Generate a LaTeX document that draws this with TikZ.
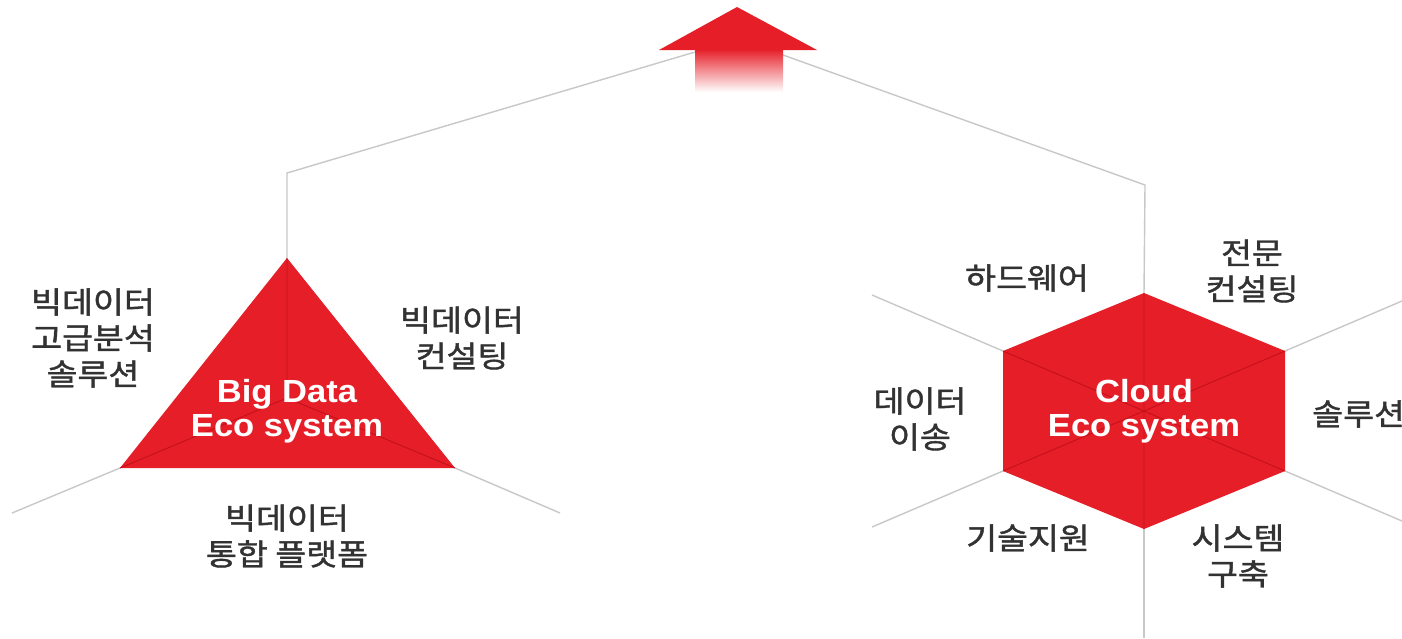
\documentclass[tikz,border=0pt]{standalone}
\usepackage{fontspec}
\setmainfont{Liberation Sans}
\newfontfamily\krfont[FakeBold=1.3]{Noto Sans CJK KR}
\definecolor{ecored}{RGB}{230,30,40}
\definecolor{ecodark}{RGB}{196,16,26}
\definecolor{linegray}{RGB}{200,200,200}
\definecolor{krtext}{RGB}{50,50,50}
\begin{document}
\begin{tikzpicture}[x=1pt,y=-1pt,
  conn/.style={draw=linegray, line width=1.4pt},
  innerline/.style={draw=ecodark, line width=0.9pt},
  eco/.style={text=white, font=\bfseries\fontsize{32}{34}\selectfont, align=center, inner sep=0pt, xscale=1.08},
  kr/.style={text=krtext, font=\krfont\fontsize{30}{36}\selectfont, align=center, inner sep=0pt, xscale=1.12}]
\useasboundingbox (0,0) rectangle (1402,638);
\fill[white] (0,0) rectangle (1402,638);

% named points
\coordinate (tip) at (737,7);
\coordinate (hl) at (659,50);
\coordinate (hr) at (817,50);
\coordinate (aL) at (695,52);
\coordinate (aR) at (783,55);
\coordinate (bdTop) at (287,173);
\coordinate (clTop) at (1145,185);

% triangle
\coordinate (tA) at (287,258);
\coordinate (tB) at (120,468);
\coordinate (tC) at (455,468);
\coordinate (tO) at (287,398);
\coordinate (tBx) at (12,513);
\coordinate (tCx) at (560,513);

% hexagon
\coordinate (hO) at (1144,411);
\coordinate (hT) at (1144,293);
\coordinate (hTR) at (1285,351);
\coordinate (hBR) at (1285,471);
\coordinate (hB) at (1144,529);
\coordinate (hBL) at (1003,471);
\coordinate (hTL) at (1003,351);
\coordinate (hTLx) at (872,295);
\coordinate (hBLx) at (872,527);
\coordinate (hTRx) at (1402,301);
\coordinate (hBRx) at (1402,521);
\coordinate (hBx) at (1144,638);

% connectors
\draw[conn] (tA) -- (bdTop) -- (aL);
\draw[conn] (aR) -- (clTop) -- (hT);
\draw[conn] (tB) -- (tBx);
\draw[conn] (tC) -- (tCx);
\draw[conn] (hTL) -- (hTLx);
\draw[conn] (hBL) -- (hBLx);
\draw[conn] (hTR) -- (hTRx);
\draw[conn] (hBR) -- (hBRx);
\draw[conn] (hB) -- (hBx);

% arrow
\shade[top color=ecored, middle color=ecored!75, bottom color=white] (695,49) rectangle (783,92);
\fill[ecored] (hl) -- (tip) -- (hr) -- cycle;

% triangle shape
\fill[ecored] (tA) -- (tB) -- (tC) -- cycle;
\draw[innerline] (tO) -- (tA) (tO) -- (tB) (tO) -- (tC);

% hexagon shape
\fill[ecored] (hT) -- (hTR) -- (hBR) -- (hB) -- (hBL) -- (hTL) -- cycle;
\draw[innerline] (hO) -- (hT) (hO) -- (hTR) (hO) -- (hBR) (hO) -- (hB) (hO) -- (hBL) (hO) -- (hTL);

% center texts
\node[eco] (bd) at (287,411) {Big Data\\Eco system};
\node[eco] (cl) at (1144,411) {Cloud\\Eco system};

% labels big data
\node[kr] (l1) at (93,338) {빅데이터\\고급분석\\솔루션};
\node[kr] (l2) at (462,338) {빅데이터\\컨설팅};
\node[kr] (l3) at (287,536) {빅데이터\\통합 플랫폼};

% labels cloud
\node[kr] (c1) at (1027,278) {하드웨어};
\node[kr] (c2) at (1252,271) {전문\\컨설팅};
\node[kr] (c3) at (920,419) {데이터\\이송};
\node[kr, anchor=west] (c4) at (1312,414) {솔루션};
\node[kr] (c5) at (1028,538) {기술지원};
\node[kr] (c6) at (1238,556) {시스템\\구축};
\end{tikzpicture}
\end{document}
